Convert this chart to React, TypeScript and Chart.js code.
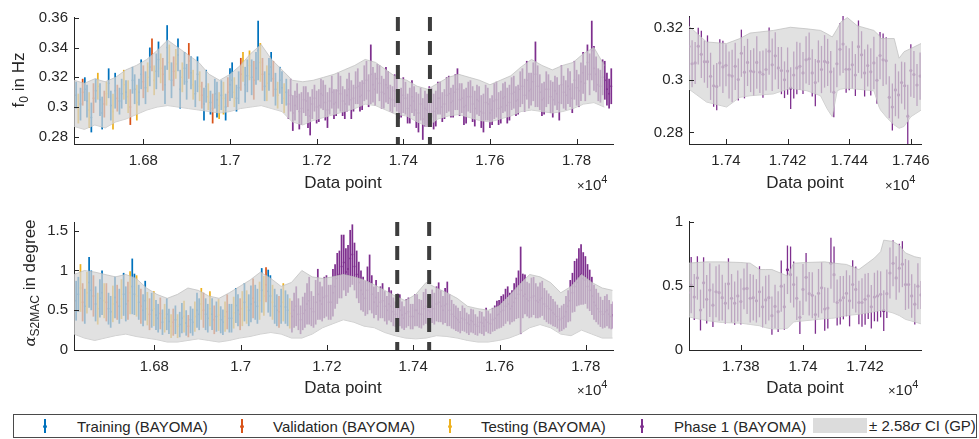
import React, { useEffect, useRef } from "react";
import { Chart, registerables } from "chart.js";

Chart.register(...registerables);

const FONT = '"Liberation Sans", Arial, Helvetica, sans-serif';
const TEXT = "#262626";
const AXIS = "#262626";
const C_TRAIN = "#0072BD";
const C_VALID = "#D95319";
const C_TEST = "#EDB120";
const C_PHASE = "#7E2F8E";
const BAND_FILL = "rgba(214,214,214,0.72)";
const BAND_EDGE = "rgba(190,190,190,0.9)";
const WIN_COLOR = "#3d3d3d";

// ---------------- f0 (top) main panel ----------------
const f0MainStart = 16645;
const f0MainStep = 5;
const f0BayomaSet = "TSTVTTSTVTSTTVSTTSTVTTSTSVTTSTTVTSTVSTTSVTTSTVSTTSTTVTSTTSVTTSTVTTSTSTVTTSTTVSTTSTVTTSVTSTTVTSTTST";
const f0BayomaMean = [0.308,0.299,0.302,0.31,0.312,0.304,0.298,0.293,0.306,0.311,0.314,0.305,0.296,0.302,0.309,0.316,0.301,0.297,0.311,0.306,0.304,0.309,0.315,0.31,0.307,0.3,0.318,0.312,0.303,0.31,0.322,0.317,0.313,0.32,0.327,0.335,0.318,0.324,0.332,0.326,0.322,0.315,0.34,0.33,0.318,0.324,0.329,0.335,0.312,0.32,0.326,0.317,0.331,0.323,0.315,0.309,0.322,0.314,0.308,0.302,0.314,0.307,0.303,0.299,0.309,0.305,0.301,0.308,0.306,0.3,0.31,0.315,0.318,0.31,0.306,0.313,0.322,0.327,0.315,0.321,0.328,0.32,0.318,0.326,0.338,0.33,0.322,0.314,0.316,0.322,0.327,0.319,0.312,0.308,0.318,0.313,0.306,0.31];
const f0BayomaErr = [0.009,0.01,0.011,0.009,0.008,0.011,0.012,0.01,0.01,0.008,0.009,0.011,0.011,0.009,0.008,0.01,0.01,0.012,0.012,0.009,0.009,0.01,0.01,0.008,0.011,0.012,0.009,0.01,0.012,0.009,0.01,0.011,0.011,0.01,0.013,0.011,0.01,0.012,0.012,0.01,0.011,0.013,0.015,0.012,0.012,0.01,0.01,0.011,0.013,0.01,0.011,0.012,0.012,0.011,0.01,0.009,0.012,0.01,0.009,0.011,0.011,0.009,0.008,0.01,0.01,0.012,0.009,0.01,0.011,0.009,0.01,0.011,0.012,0.01,0.009,0.011,0.011,0.01,0.012,0.011,0.01,0.012,0.013,0.011,0.02,0.013,0.011,0.01,0.012,0.011,0.01,0.012,0.011,0.009,0.009,0.011,0.01,0.009];
const f0PhaseMean = [0.302,0.308,0.296,0.301,0.307,0.297,0.299,0.305,0.304,0.298,0.294,0.302,0.306,0.3,0.301,0.309,0.308,0.303,0.298,0.304,0.31,0.302,0.303,0.311,0.309,0.304,0.302,0.308,0.312,0.305,0.306,0.313,0.314,0.307,0.308,0.316,0.318,0.311,0.322,0.315,0.312,0.319,0.316,0.31,0.309,0.315,0.313,0.306,0.305,0.311,0.309,0.302,0.303,0.308,0.306,0.299,0.301,0.307,0.304,0.298,0.296,0.302,0.292,0.299,0.298,0.304,0.303,0.297,0.299,0.306,0.306,0.3,0.302,0.308,0.309,0.303,0.304,0.31,0.312,0.305,0.306,0.3,0.301,0.307,0.307,0.302,0.299,0.305,0.304,0.297,0.296,0.303,0.302,0.296,0.298,0.304,0.305,0.299,0.3,0.306,0.307,0.301,0.303,0.309,0.31,0.304,0.305,0.312,0.314,0.308,0.318,0.311,0.312,0.317,0.322,0.314,0.31,0.305,0.306,0.312,0.312,0.307,0.305,0.311,0.309,0.303,0.315,0.31,0.308,0.314,0.312,0.306,0.318,0.313,0.311,0.317,0.323,0.316,0.33,0.322,0.338,0.326,0.322,0.315,0.314,0.32,0.318,0.312,0.309,0.314];
const f0PhaseErr = [0.01,0.011,0.012,0.01,0.009,0.012,0.011,0.009,0.01,0.012,0.013,0.01,0.009,0.011,0.011,0.01,0.01,0.012,0.012,0.009,0.011,0.01,0.009,0.012,0.012,0.01,0.01,0.011,0.011,0.013,0.009,0.011,0.012,0.01,0.01,0.012,0.013,0.011,0.02,0.012,0.011,0.01,0.012,0.011,0.01,0.012,0.011,0.009,0.009,0.011,0.012,0.01,0.01,0.012,0.011,0.01,0.012,0.011,0.01,0.012,0.013,0.011,0.014,0.012,0.011,0.01,0.01,0.012,0.012,0.011,0.011,0.01,0.01,0.012,0.012,0.01,0.011,0.012,0.014,0.011,0.01,0.012,0.012,0.01,0.011,0.012,0.012,0.01,0.01,0.011,0.013,0.012,0.011,0.01,0.01,0.012,0.012,0.011,0.011,0.01,0.01,0.012,0.012,0.011,0.011,0.01,0.01,0.012,0.012,0.011,0.013,0.012,0.011,0.013,0.022,0.014,0.012,0.011,0.011,0.012,0.01,0.011,0.012,0.01,0.011,0.012,0.013,0.011,0.01,0.012,0.012,0.01,0.013,0.012,0.011,0.013,0.014,0.012,0.012,0.014,0.02,0.015,0.012,0.011,0.011,0.012,0.013,0.011,0.01,0.012];
const f0BandStart = 16640;
const f0BandStep = 24;
const f0BandLower = [0.287,0.285,0.288,0.286,0.29,0.292,0.295,0.298,0.3,0.301,0.3,0.299,0.298,0.297,0.296,0.297,0.299,0.3,0.301,0.299,0.297,0.29,0.288,0.291,0.293,0.295,0.297,0.299,0.302,0.301,0.298,0.295,0.294,0.29,0.287,0.292,0.294,0.295,0.293,0.291,0.29,0.292,0.294,0.297,0.298,0.297,0.296,0.297,0.299,0.302,0.303,0.3];
const f0BandUpper = [0.318,0.316,0.319,0.317,0.32,0.325,0.328,0.332,0.338,0.345,0.34,0.335,0.33,0.322,0.318,0.322,0.328,0.336,0.342,0.332,0.325,0.318,0.317,0.318,0.32,0.322,0.325,0.328,0.332,0.33,0.325,0.32,0.318,0.314,0.312,0.316,0.32,0.322,0.32,0.318,0.315,0.318,0.321,0.327,0.332,0.328,0.325,0.328,0.33,0.336,0.34,0.328];
const f0Windows = [17387.5, 17461.5];
const f0MainXTicks = [16800, 17000, 17200, 17400, 17600, 17800];
const f0MainYTicks = [0.28, 0.3, 0.32, 0.34, 0.36];

// ---------------- f0 (top) zoom panel ----------------
const f0ZoomStart = 17388;
const f0ZoomMean = [0.3128,0.3062,0.3065,0.3129,0.3098,0.307,0.307,0.3014,0.2978,0.2975,0.3065,0.305,0.3056,0.3019,0.3015,0.3052,0.3002,0.3102,0.303,0.3067,0.3034,0.3031,0.3067,0.303,0.3022,0.304,0.311,0.3058,0.3092,0.3046,0.3036,0.3001,0.3034,0.2969,0.3019,0.3046,0.3052,0.3027,0.3077,0.3081,0.3027,0.299,0.3071,0.304,0.3071,0.3067,0.3031,0.2953,0.3062,0.3117,0.3137,0.3041,0.3041,0.3058,0.3019,0.3127,0.3096,0.3027,0.3055,0.3031,0.3065,0.2999,0.3093,0.3077,0.3073,0.2934,0.2897,0.2962,0.2943,0.299,0.2978,0.2862,0.3036,0.3021,0.2981,0.3015];
const f0ZoomErr = [0.011,0.009,0.008,0.007,0.009,0.008,0.01,0.009,0.008,0.009,0.009,0.01,0.008,0.009,0.01,0.009,0.008,0.009,0.01,0.009,0.008,0.009,0.01,0.008,0.009,0.008,0.009,0.01,0.009,0.008,0.009,0.007,0.009,0.008,0.009,0.01,0.009,0.008,0.009,0.01,0.009,0.009,0.008,0.009,0.01,0.009,0.008,0.0095,0.009,0.01,0.011,0.009,0.008,0.009,0.008,0.01,0.009,0.009,0.008,0.009,0.01,0.009,0.009,0.01,0.009,0.008,0.009,0.01,0.009,0.008,0.009,0.012,0.01,0.009,0.008,0.009];
const f0ZoomBandX = [17388,17393.7,17400.2,17404.5,17407.8,17415.4,17420.9,17426.3,17430.7,17432.8,17434.5,17436.1,17437.2,17439.4,17442.6,17448,17449.7,17450.2,17452.4,17454.6,17456.2,17457.8,17460,17463.3];
const f0ZoomBandUpper = [0.3205,0.3145,0.3139,0.3158,0.3179,0.3189,0.3201,0.3195,0.3189,0.3176,0.3164,0.3195,0.322,0.3238,0.3207,0.3189,0.317,0.3158,0.3158,0.3158,0.3083,0.3108,0.312,0.3139];
const f0ZoomBandLower = [0.2965,0.2916,0.2897,0.2934,0.294,0.2947,0.2969,0.2959,0.294,0.2891,0.286,0.2959,0.2965,0.2969,0.2965,0.2959,0.2897,0.2885,0.2854,0.2829,0.2816,0.2823,0.286,0.2885];
const f0ZoomXTicks = [17400, 17420, 17440, 17460];
const f0ZoomYTicks = [0.28, 0.3, 0.32];

// ---------------- alpha S2MAC (bottom) main panel ----------------
const alphaMainStart = 16619;
const alphaMainStep = 5;
const alphaBayomaSet = "TTSVTSTTVTSTTSVTTSTVTSTTVSTTSTVTTSVTSTTVTSTTSVTSTTSTVTTSTTSVTTSTVTSTTSVTTSTTVSTSTTVTTSTSVTTSTTVTSTTS";
const alphaBayomaMean = [0.62,0.7,0.78,0.6,0.55,0.72,0.85,0.75,0.68,0.58,0.52,0.65,0.72,0.62,0.6,0.52,0.48,0.58,0.66,0.6,0.55,0.64,0.7,0.58,0.62,0.72,0.8,0.7,0.68,0.6,0.55,0.5,0.62,0.52,0.45,0.5,0.52,0.44,0.4,0.46,0.35,0.4,0.45,0.36,0.3,0.35,0.38,0.3,0.32,0.4,0.42,0.34,0.3,0.38,0.35,0.42,0.5,0.45,0.58,0.5,0.45,0.4,0.52,0.45,0.38,0.42,0.44,0.38,0.35,0.42,0.48,0.4,0.4,0.47,0.56,0.5,0.45,0.52,0.6,0.54,0.5,0.58,0.65,0.6,0.55,0.62,0.75,0.68,0.82,0.74,0.68,0.6,0.55,0.5,0.48,0.55,0.6,0.54,0.5,0.46];
const alphaBayomaErr = [0.25,0.22,0.3,0.24,0.22,0.26,0.32,0.25,0.26,0.22,0.2,0.24,0.28,0.22,0.24,0.2,0.2,0.23,0.26,0.22,0.22,0.25,0.27,0.22,0.24,0.27,0.35,0.26,0.26,0.22,0.22,0.2,0.25,0.21,0.2,0.22,0.22,0.19,0.18,0.2,0.16,0.18,0.2,0.16,0.15,0.17,0.18,0.15,0.16,0.19,0.2,0.16,0.14,0.17,0.17,0.19,0.22,0.2,0.2,0.22,0.2,0.18,0.22,0.2,0.18,0.19,0.2,0.17,0.16,0.19,0.22,0.18,0.18,0.2,0.22,0.2,0.2,0.22,0.24,0.21,0.2,0.23,0.25,0.22,0.22,0.24,0.28,0.25,0.22,0.27,0.26,0.22,0.22,0.2,0.2,0.22,0.24,0.21,0.2,0.19];
const alphaPhaseMean = [0.42,0.5,0.55,0.45,0.38,0.46,0.5,0.58,0.62,0.52,0.48,0.6,0.7,0.62,0.58,0.66,0.68,0.6,0.6,0.72,0.8,0.9,0.95,1.05,1.1,0.98,1.02,1.15,1.2,1.05,0.95,0.85,0.75,0.7,0.65,0.75,0.85,0.7,0.6,0.66,0.55,0.6,0.62,0.55,0.5,0.58,0.55,0.48,0.45,0.52,0.5,0.44,0.4,0.46,0.48,0.42,0.42,0.5,0.5,0.46,0.45,0.52,0.55,0.5,0.48,0.55,0.52,0.58,0.6,0.55,0.5,0.56,0.58,0.5,0.45,0.42,0.4,0.38,0.35,0.4,0.38,0.34,0.32,0.37,0.36,0.32,0.3,0.35,0.34,0.3,0.38,0.35,0.33,0.38,0.4,0.44,0.45,0.48,0.5,0.55,0.58,0.52,0.55,0.6,0.65,0.7,0.75,0.68,0.7,0.64,0.62,0.66,0.68,0.62,0.6,0.63,0.65,0.58,0.55,0.52,0.5,0.47,0.45,0.42,0.38,0.4,0.42,0.48,0.55,0.62,0.72,0.8,0.85,0.92,0.95,0.9,0.88,0.8,0.75,0.68,0.6,0.56,0.52,0.48,0.45,0.48,0.5,0.45,0.42,0.44];
const alphaPhaseErr = [0.2,0.22,0.25,0.2,0.18,0.21,0.22,0.26,0.3,0.22,0.2,0.28,0.32,0.24,0.22,0.26,0.26,0.22,0.22,0.3,0.28,0.32,0.3,0.4,0.35,0.3,0.3,0.36,0.38,0.3,0.3,0.26,0.25,0.22,0.22,0.3,0.35,0.24,0.2,0.22,0.18,0.2,0.22,0.19,0.18,0.21,0.2,0.18,0.16,0.19,0.2,0.17,0.15,0.18,0.18,0.16,0.16,0.2,0.2,0.18,0.18,0.21,0.22,0.19,0.18,0.21,0.2,0.22,0.25,0.2,0.18,0.22,0.28,0.2,0.18,0.16,0.16,0.15,0.14,0.16,0.15,0.13,0.13,0.15,0.15,0.13,0.12,0.14,0.14,0.12,0.15,0.14,0.13,0.15,0.16,0.18,0.18,0.2,0.2,0.22,0.22,0.2,0.2,0.24,0.26,0.3,0.55,0.28,0.25,0.22,0.22,0.25,0.24,0.22,0.2,0.22,0.22,0.2,0.2,0.19,0.18,0.17,0.16,0.15,0.15,0.16,0.16,0.2,0.2,0.26,0.25,0.32,0.3,0.36,0.38,0.33,0.3,0.28,0.26,0.24,0.22,0.21,0.2,0.19,0.18,0.2,0.2,0.18,0.16,0.17];
const alphaBandStart = 16614;
const alphaBandStep = 24;
const alphaBandLower = [0.2,0.15,0.12,0.15,0.18,0.2,0.17,0.15,0.13,0.1,0.1,0.12,0.14,0.12,0.1,0.12,0.15,0.17,0.2,0.22,0.2,0.15,0.15,0.2,0.28,0.33,0.38,0.35,0.3,0.28,0.22,0.18,0.15,0.14,0.15,0.18,0.17,0.15,0.12,0.1,0.1,0.12,0.15,0.2,0.28,0.32,0.28,0.2,0.18,0.25,0.2,0.15,0.15];
const alphaBandUpper = [0.95,1.0,0.98,0.95,0.92,0.95,0.9,0.78,0.7,0.65,0.7,0.78,0.75,0.68,0.65,0.72,0.8,0.88,0.98,0.9,0.8,0.85,1.0,0.92,0.9,0.92,0.95,0.92,0.88,0.82,0.75,0.68,0.62,0.7,0.85,0.78,0.72,0.65,0.55,0.52,0.5,0.55,0.68,0.82,0.95,0.92,0.85,0.72,0.8,0.95,0.85,0.78,0.75];
const alphaWindows = [17363, 17437];
const alphaMainXTicks = [16800, 17000, 17200, 17400, 17600, 17800];
const alphaMainYTicks = [0, 0.5, 1, 1.5];

// ---------------- alpha S2MAC (bottom) zoom panel ----------------
const alphaZoomStart = 17363;
const alphaZoomMean = [0.449,0.508,0.415,0.564,0.313,0.526,0.397,0.469,0.351,0.456,0.449,0.41,0.367,0.518,0.405,0.367,0.423,0.379,0.479,0.482,0.405,0.41,0.385,0.456,0.338,0.392,0.41,0.269,0.341,0.3,0.5,0.338,0.628,0.59,0.513,0.405,0.256,0.474,0.569,0.441,0.428,0.277,0.444,0.487,0.321,0.328,0.679,0.59,0.372,0.39,0.41,0.444,0.385,0.513,0.474,0.372,0.372,0.397,0.423,0.338,0.415,0.423,0.436,0.308,0.441,0.603,0.679,0.564,0.641,0.672,0.513,0.513,0.423,0.359,0.5,0.431];
const alphaZoomErr = [0.2,0.22,0.18,0.17,0.16,0.2,0.19,0.21,0.17,0.2,0.22,0.18,0.16,0.2,0.19,0.17,0.2,0.18,0.16,0.2,0.19,0.18,0.17,0.2,0.16,0.19,0.18,0.15,0.17,0.16,0.2,0.18,0.19,0.22,0.18,0.17,0.13,0.2,0.19,0.17,0.18,0.15,0.19,0.2,0.17,0.16,0.2,0.22,0.18,0.19,0.17,0.18,0.2,0.19,0.18,0.17,0.19,0.2,0.18,0.17,0.19,0.2,0.18,0.16,0.19,0.2,0.18,0.17,0.19,0.18,0.2,0.19,0.17,0.16,0.18,0.11];
const alphaZoomBandX = [17363,17369,17374,17380,17383,17386,17388,17390,17393,17395,17397,17401,17407,17410,17414,17418,17423,17425,17426,17429,17431,17433,17436,17438];
const alphaZoomBandUpper = [0.68,0.69,0.69,0.685,0.68,0.63,0.63,0.63,0.6,0.58,0.68,0.685,0.69,0.68,0.67,0.63,0.72,0.77,0.86,0.85,0.82,0.76,0.73,0.72];
const alphaZoomBandLower = [0.26,0.23,0.215,0.21,0.2,0.19,0.175,0.165,0.165,0.17,0.22,0.23,0.245,0.25,0.27,0.28,0.3,0.31,0.31,0.29,0.27,0.24,0.22,0.205];
const alphaZoomXTicks = [17380, 17400, 17420];
const alphaZoomYTicks = [0, 0.5, 1];

// ---------------- builders ----------------
type Series = { color: string; xs: number[]; mean: number[]; err: number[] };
type Band = { xs: number[]; lower: number[]; upper: number[] };
type PanelSpec = {
  left: number; top: number; w: number; h: number;
  xMin: number; xMax: number; yMin: number; yMax: number;
  xTicks: number[]; yTicks: number[];
  series: Series[]; band: Band; windows: number[];
  barW: number; dotR: number;
};

function mainSeries(start: number, step: number, set: string, bMean: number[], bErr: number[], pMean: number[], pErr: number[]): Series[] {
  const groups: Record<string, Series> = {
    T: { color: C_TRAIN, xs: [], mean: [], err: [] },
    V: { color: C_VALID, xs: [], mean: [], err: [] },
    S: { color: C_TEST, xs: [], mean: [], err: [] },
  };
  bMean.forEach((m, i) => {
    const g = groups[set[i] || "T"];
    g.xs.push(start + step * i);
    g.mean.push(m);
    g.err.push(bErr[i] ?? 0.01);
  });
  const phase: Series = {
    color: C_PHASE,
    xs: pMean.map((_, i) => start + step * (bMean.length + i)),
    mean: pMean,
    err: pErr,
  };
  return [groups.T, groups.V, groups.S, phase];
}

function seqX(start: number, step: number, n: number) {
  return Array.from({ length: n }, (_, i) => start + step * i);
}

const fmt = (v: number) => String(parseFloat(v.toFixed(4)));

const PADL = 70, PADT = 12, PADR = 26, PADB = 30;

const inwardTicks = {
  id: "inwardTicks",
  afterDraw(chart: any) {
    const { ctx, chartArea } = chart;
    const xs = chart.scales.x, ys = chart.scales.y;
    ctx.save();
    ctx.strokeStyle = AXIS;
    ctx.lineWidth = 1;
    xs.ticks.forEach((t: any) => {
      const px = Math.round(xs.getPixelForValue(t.value)) + 0.5;
      ctx.beginPath();
      ctx.moveTo(px, chartArea.bottom);
      ctx.lineTo(px, chartArea.bottom - 5);
      ctx.stroke();
    });
    ys.ticks.forEach((t: any) => {
      const py = Math.round(ys.getPixelForValue(t.value)) + 0.5;
      ctx.beginPath();
      ctx.moveTo(chartArea.left, py);
      ctx.lineTo(chartArea.left + 5, py);
      ctx.stroke();
    });
    ctx.restore();
  },
};

function buildConfig(s: PanelSpec): any {
  const ds: any[] = [];
  s.series.forEach((se) => {
    ds.push({
      type: "bar",
      data: se.xs.map((x, i) => {
        const e = se.err[i] ?? 0;
        return { x, y: [se.mean[i] - e, se.mean[i] + e] };
      }),
      backgroundColor: se.color,
      borderWidth: 0,
      barPercentage: 1,
      maxBarThickness: s.barW,
      inflateAmount: 0,
      grouped: false,
      order: 5,
    });
  });
  s.series.forEach((se) => {
    ds.push({
      type: "line",
      data: se.xs.map((x, i) => ({ x, y: se.mean[i] })),
      showLine: false,
      pointRadius: s.dotR,
      pointHoverRadius: 0,
      pointBackgroundColor: se.color,
      pointBorderWidth: 0,
      order: 4,
    });
  });
  ds.push({
    type: "line",
    data: s.band.xs.map((x, i) => ({ x, y: s.band.lower[i] })),
    borderColor: BAND_EDGE,
    borderWidth: 0.8,
    pointRadius: 0,
    fill: false,
    order: 3,
  });
  ds.push({
    type: "line",
    data: s.band.xs.map((x, i) => ({ x, y: s.band.upper[i] })),
    borderColor: BAND_EDGE,
    borderWidth: 0.8,
    pointRadius: 0,
    fill: "-1",
    backgroundColor: BAND_FILL,
    order: 2,
  });
  s.windows.forEach((w) => {
    ds.push({
      type: "line",
      data: [{ x: w, y: s.yMax }, { x: w, y: s.yMin }],
      borderColor: WIN_COLOR,
      borderWidth: 4,
      borderDash: [14, 10],
      pointRadius: 0,
      fill: false,
      order: 1,
    });
  });

  return {
    type: "bar",
    data: { datasets: ds },
    plugins: [inwardTicks],
    options: {
      responsive: false,
      animation: false,
      devicePixelRatio: 1,
      layout: { padding: { left: 0, top: PADT, right: PADR, bottom: 0 } },
      plugins: { legend: { display: false }, tooltip: { enabled: false } },
      scales: {
        x: {
          type: "linear",
          min: s.xMin,
          max: s.xMax,
          offset: false,
          grid: { display: false, drawTicks: false },
          border: { display: true, color: AXIS, width: 1 },
          ticks: {
            padding: 8,
            autoSkip: false,
            maxRotation: 0,
            color: TEXT,
            font: { family: FONT, size: 15 },
            callback: (v: any) => fmt(Number(v) / 1e4),
          },
          afterBuildTicks: (sc: any) => { sc.ticks = s.xTicks.map((value) => ({ value })); },
          afterFit: (sc: any) => { sc.height = PADB; },
        },
        y: {
          type: "linear",
          min: s.yMin,
          max: s.yMax,
          grid: { display: false, drawTicks: false },
          border: { display: true, color: AXIS, width: 1 },
          ticks: {
            padding: 6,
            color: TEXT,
            font: { family: FONT, size: 15 },
            callback: (v: any) => fmt(Number(v)),
          },
          afterBuildTicks: (sc: any) => { sc.ticks = s.yTicks.map((value) => ({ value })); },
          afterFit: (sc: any) => { sc.width = PADL; },
        },
      },
    },
  };
}

function Panel({ spec }: { spec: PanelSpec }) {
  const ref = useRef<HTMLCanvasElement | null>(null);
  useEffect(() => {
    if (!ref.current) return;
    const chart = new Chart(ref.current, buildConfig(spec));
    return () => chart.destroy();
  }, []);
  const W = spec.w + PADL + PADR;
  const H = spec.h + PADT + PADB;
  return (
    <canvas
      ref={ref}
      width={W}
      height={H}
      style={{ position: "absolute", left: spec.left - PADL, top: spec.top - PADT, width: W, height: H }}
    />
  );
}

const f0MainSpec: PanelSpec = {
  left: 74, top: 14, w: 539, h: 130,
  xMin: 16640, xMax: 17884, yMin: 0.2752, yMax: 0.3605,
  xTicks: f0MainXTicks, yTicks: f0MainYTicks,
  series: mainSeries(f0MainStart, f0MainStep, f0BayomaSet, f0BayomaMean, f0BayomaErr, f0PhaseMean, f0PhaseErr),
  band: { xs: seqX(f0BandStart, f0BandStep, f0BandLower.length), lower: f0BandLower, upper: f0BandUpper },
  windows: f0Windows, barW: 1.9, dotR: 1,
};

const f0ZoomSpec: PanelSpec = {
  left: 689, top: 13, w: 232, h: 131,
  xMin: 17388, xMax: 17463.3, yMin: 0.2756, yMax: 0.3244,
  xTicks: f0ZoomXTicks, yTicks: f0ZoomYTicks,
  series: [{ color: C_PHASE, xs: seqX(f0ZoomStart, 1, f0ZoomMean.length), mean: f0ZoomMean, err: f0ZoomErr }],
  band: { xs: f0ZoomBandX, lower: f0ZoomBandLower, upper: f0ZoomBandUpper },
  windows: [], barW: 1.3, dotR: 1.6,
};

const alphaMainSpec: PanelSpec = {
  left: 74, top: 219, w: 539, h: 131,
  xMin: 16614, xMax: 17863, yMin: 0, yMax: 1.61,
  xTicks: alphaMainXTicks, yTicks: alphaMainYTicks,
  series: mainSeries(alphaMainStart, alphaMainStep, alphaBayomaSet, alphaBayomaMean, alphaBayomaErr, alphaPhaseMean, alphaPhaseErr),
  band: { xs: seqX(alphaBandStart, alphaBandStep, alphaBandLower.length), lower: alphaBandLower, upper: alphaBandUpper },
  windows: alphaWindows, barW: 1.9, dotR: 1,
};

const alphaZoomSpec: PanelSpec = {
  left: 689, top: 218, w: 232, h: 132,
  xMin: 17363.3, xMax: 17438, yMin: 0, yMax: 1.01,
  xTicks: alphaZoomXTicks, yTicks: alphaZoomYTicks,
  series: [{ color: C_PHASE, xs: seqX(alphaZoomStart, 1, alphaZoomMean.length), mean: alphaZoomMean, err: alphaZoomErr }],
  band: { xs: alphaZoomBandX, lower: alphaZoomBandLower, upper: alphaZoomBandUpper },
  windows: [], barW: 1.3, dotR: 1.6,
};

const abs = (left: number, top: number, extra: any = {}): any => ({
  position: "absolute", left, top, whiteSpace: "nowrap", ...extra,
});

function XLabel({ cx, cy }: { cx: number; cy: number }) {
  return <div style={abs(cx, cy, { transform: "translate(-50%,-50%)", fontSize: 17 })}>Data point</div>;
}

function Exponent({ left, cy }: { left: number; cy: number }) {
  return (
    <div style={abs(left, cy, { transform: "translateY(-50%)", fontSize: 15, lineHeight: "18px" })}>
      <span style={{ fontSize: 13 }}>×</span>10
      <span style={{ fontSize: 11, position: "relative", top: -7 }}>4</span>
    </div>
  );
}

function LegendMark({ cx, color }: { cx: number; color: string }) {
  return (
    <div style={abs(cx - 1, 419, { width: 2, height: 14 })}>
      <div style={{ position: "absolute", left: 0, top: 0, width: 1.6, height: 14, background: color }} />
      <div style={{ position: "absolute", left: -1, top: 5.5, width: 3.6, height: 3.6, borderRadius: 2, background: color }} />
    </div>
  );
}

export default function App() {
  return (
    <div
      style={{
        position: "fixed", left: 0, top: 0, width: 979, height: 439, background: "#fff",
        overflow: "hidden", fontFamily: FONT, color: TEXT,
      }}
    >
      <Panel spec={f0MainSpec} />
      <Panel spec={f0ZoomSpec} />
      <Panel spec={alphaMainSpec} />
      <Panel spec={alphaZoomSpec} />

      <div style={abs(19, 80, { transform: "translate(-50%,-50%) rotate(-90deg)", fontSize: 17 })}>
        f<span style={{ fontSize: 12, position: "relative", top: 4 }}>0</span> in Hz
      </div>
      <div style={abs(30, 283, { transform: "translate(-50%,-50%) rotate(-90deg)", fontSize: 17 })}>
        <span style={{ fontFamily: '"DejaVu Serif", serif', fontStyle: "italic", fontSize: 15 }}>α</span>
        <span style={{ fontSize: 12, position: "relative", top: 4 }}>S2MAC</span> in degree
      </div>

      <XLabel cx={343} cy={183} />
      <XLabel cx={805} cy={183} />
      <XLabel cx={343} cy={388} />
      <XLabel cx={805} cy={388} />
      <Exponent left={577} cy={185} />
      <Exponent left={885} cy={185} />
      <Exponent left={577} cy={390} />
      <Exponent left={888} cy={390} />

      <div style={abs(13, 414, { width: 962, height: 22, border: "1px solid #4a4a4a", background: "#fff" })} />
      <LegendMark cx={45} color={C_TRAIN} />
      <div style={abs(77, 426, { transform: "translateY(-50%)", fontSize: 15 })}>Training (BAYOMA)</div>
      <LegendMark cx={242} color={C_VALID} />
      <div style={abs(273, 426, { transform: "translateY(-50%)", fontSize: 15 })}>Validation (BAYOMA)</div>
      <LegendMark cx={450} color={C_TEST} />
      <div style={abs(481, 426, { transform: "translateY(-50%)", fontSize: 15 })}>Testing (BAYOMA)</div>
      <LegendMark cx={642} color={C_PHASE} />
      <div style={abs(674, 426, { transform: "translateY(-50%)", fontSize: 15 })}>Phase 1 (BAYOMA)</div>
      <div style={abs(813, 418, { width: 54, height: 15, background: "#dcdcdc" })} />
      <div style={abs(869, 426, { transform: "translateY(-50%)", fontSize: 15 })}>
        ± 2.58<span style={{ fontFamily: '"DejaVu Serif", serif', fontStyle: "italic" }}>σ</span> CI (GP)
      </div>
    </div>
  );
}
